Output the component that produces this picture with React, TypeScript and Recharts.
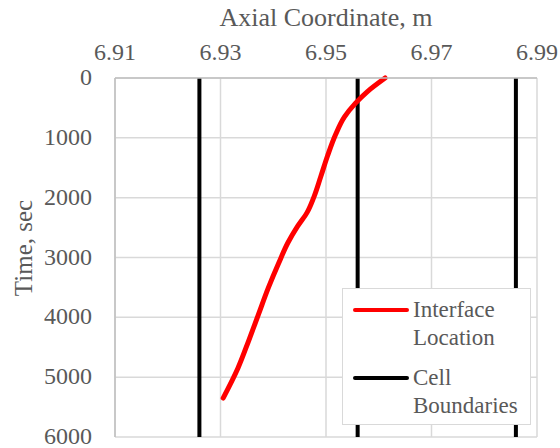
import * as React from "react"
import {
  ComposedChart,
  Line,
  XAxis,
  YAxis,
  CartesianGrid,
  ReferenceLine,
  Legend,
} from "recharts"

// interface position (time in sec, coordinate in m)
const times = [0, 230, 420, 650, 950, 1300, 1650, 1990, 2250, 2480, 2750, 3100, 3500, 3950, 4400, 4850, 5350]
const coords = [6.9612, 6.9578, 6.9556, 6.9535, 6.9518, 6.9503, 6.9490, 6.9477, 6.9464, 6.9446, 6.9428, 6.9410, 6.9391, 6.9372, 6.9353, 6.9333, 6.9305]

const cellBoundaries = [6.926, 6.956, 6.986]

const xTicks = [6.91, 6.93, 6.95, 6.97, 6.99]
const yTicks = [0, 1000, 2000, 3000, 4000, 5000, 6000]

const legendItems = [
  { lines: ["Interface", "Location"], color: "#ff0000" },
  { lines: ["Cell", "Boundaries"], color: "#000000" },
]

const data = times.map((t, i) => ({ t, x: coords[i] }))

const FONT = "'Times New Roman', 'Liberation Serif', 'DejaVu Serif', serif"
const TEXT = "#595959"

const XTick = ({ x, y, payload }: any) => (
  <text x={x} y={y - 10} textAnchor="middle" fill={TEXT} fontSize={24} style={{ fontFamily: FONT }}>
    {Number(payload.value).toFixed(2)}
  </text>
)

const YTick = ({ x, y, payload }: any) => (
  <text x={x - 15} y={y} dy={7} textAnchor="end" fill={TEXT} fontSize={24} style={{ fontFamily: FONT }}>
    {payload.value}
  </text>
)

const LegendBox = () => (
  <div
    style={{
      width: 189,
      height: 137,
      border: "1.5px solid #d9d9d9",
      background: "#fff",
      fontFamily: FONT,
      fontSize: 23,
      color: TEXT,
      boxSizing: "border-box",
      paddingTop: 7,
    }}
  >
    {legendItems.map((item) => (
      <div key={item.color} style={{ display: "flex", marginBottom: 12 }}>
        <div style={{ width: 70, position: "relative" }}>
          <div
            style={{
              position: "absolute",
              left: 10,
              top: 12,
              width: 56,
              height: 4,
              borderRadius: 2,
              background: item.color,
            }}
          />
        </div>
        <div style={{ lineHeight: "28px" }}>
          {item.lines.map((l) => (
            <div key={l}>{l}</div>
          ))}
        </div>
      </div>
    ))}
  </div>
)

export default function App() {
  return (
    <div style={{ position: "absolute", left: 0, top: 0, width: 560, height: 448, background: "#fff", fontFamily: FONT }}>
      <ComposedChart
        width={560}
        height={448}
        data={data}
        layout="vertical"
        margin={{ top: 0, right: 23, bottom: 11, left: 0 }}
        style={{ fontFamily: FONT }}
      >
        <CartesianGrid stroke="#d9d9d9" strokeWidth={1.5} />
        <XAxis
          type="number"
          dataKey="x"
          orientation="top"
          domain={[6.91, 6.99]}
          ticks={xTicks}
          height={78}
          tickLine={false}
          axisLine={{ stroke: "#bfbfbf", strokeWidth: 1.5 }}
          tick={<XTick />}
          label={{
            content: () => (
              <text x={326} y={26} textAnchor="middle" fill={TEXT} fontSize={26} style={{ fontFamily: FONT }}>
                Axial Coordinate, m
              </text>
            ),
          }}
        />
        <YAxis
          type="number"
          dataKey="t"
          domain={[0, 6000]}
          ticks={yTicks}
          width={115}
          tickLine={false}
          axisLine={{ stroke: "#bfbfbf", strokeWidth: 1.5 }}
          tick={<YTick />}
          label={{
            content: () => (
              <text
                x={23}
                y={248}
                transform="rotate(-90 23 248)"
                textAnchor="middle"
                dominantBaseline="central"
                fill={TEXT}
                fontSize={25}
                style={{ fontFamily: FONT }}
              >
                Time, sec
              </text>
            ),
          }}
        />
        {cellBoundaries.map((b) => (
          <ReferenceLine key={b} x={b} stroke="#000" strokeWidth={4} />
        ))}
        <Line
          dataKey="x"
          type="monotoneY"
          stroke="#ff0000"
          strokeWidth={5}
          strokeLinecap="round"
          dot={false}
          isAnimationActive={false}
        />
        <Legend
          layout="horizontal"
          align="center"
          verticalAlign="middle"
          wrapperStyle={{ position: "absolute", left: 342, top: 288, width: 190, height: 140 }}
          content={() => <LegendBox />}
        />
      </ComposedChart>
    </div>
  )
}
